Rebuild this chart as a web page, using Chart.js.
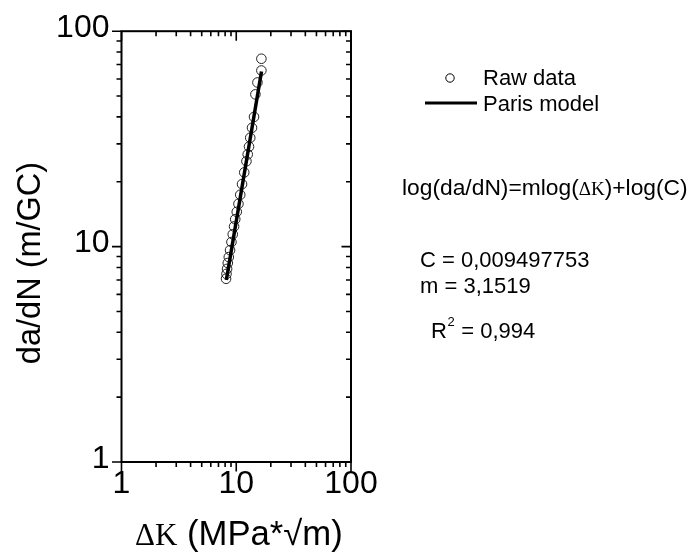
<!DOCTYPE html>
<html>
<head>
<meta charset="utf-8">
<script src="https://cdn.jsdelivr.net/npm/chart.js@4/dist/chart.umd.min.js"></script>
<style>
  html, body { margin: 0; padding: 0; background: #ffffff; }
  #wrap { width: 688px; height: 553px; position: relative; }
</style>
</head>
<body>
<div id="wrap"><canvas id="c"></canvas></div>
<script>
// ---- data ----
const deltaK = [16.56, 16.56, 15.3, 14.69, 14.28, 13.72, 13.24, 12.92, 12.59, 12.27, 11.74, 11.23, 10.83, 10.45, 10.1, 9.80, 9.57, 9.32, 9.08, 8.83, 8.61, 8.44, 8.32, 8.22, 8.15];
const growthRate = [74.5, 65.7, 57.8, 50.9, 40.0, 35.6, 32.0, 29.1, 26.8, 24.9, 22.1, 19.5, 17.4, 15.8, 14.5, 13.4, 12.4, 11.4, 10.5, 9.63, 8.94, 8.39, 7.88, 7.47, 7.09];
const fitK = [8.2, 16.6];
const fitRate = [7.0, 65.0];
const tickLabels = [1, 10, 100];
const legendLabels = ['Raw data', 'Paris model'];
const xTitleSymbol = 'ΔK';
const xTitleRest = ' (MPa*√m)';
const yTitle = 'da/dN (m/GC)';
const eqParts = ['log(da/dN)=mlog(', 'ΔK', ')+log(C)'];
const paramC = 'C = 0,009497753';
const paramM = 'm = 3,1519';
const paramR = ['R', '2', ' = 0,994'];

const SANS = '"Liberation Sans", Arial, sans-serif';
const SERIF = '"Liberation Serif", "Times New Roman", serif';

const minorValues = [];
for (let e = 0; e < 2; e++) for (let m = 1; m <= 9; m++) minorValues.push(m * Math.pow(10, e));
minorValues.push(100);

const decorPlugin = {
  id: 'decor',
  afterDraw(chart) {
    const ctx = chart.ctx;
    const a = chart.chartArea;
    const xs = chart.scales.x, ys = chart.scales.y;
    ctx.save();
    ctx.strokeStyle = '#000';
    ctx.fillStyle = '#000';
    // frame
    ctx.lineWidth = 2;
    ctx.strokeRect(a.left, a.top, a.right - a.left, a.bottom - a.top);
    // ticks
    ctx.lineWidth = 1.6;
    minorValues.forEach(v => {
      const major = tickLabels.includes(v);
      const len = major ? 9.5 : 5;
      const px = xs.getPixelForValue(v);
      ctx.beginPath();
      ctx.moveTo(px, a.bottom); ctx.lineTo(px, a.bottom + len);
      ctx.moveTo(px, a.top); ctx.lineTo(px, a.top + len);
      const py = ys.getPixelForValue(v);
      ctx.moveTo(a.left, py); ctx.lineTo(a.left - len, py);
      ctx.moveTo(a.right, py); ctx.lineTo(a.right - len, py);
      ctx.stroke();
    });
    // y title
    ctx.save();
    ctx.translate(40, 263);
    ctx.rotate(-Math.PI / 2);
    ctx.font = '32.5px ' + SANS;
    ctx.textAlign = 'center';
    ctx.textBaseline = 'alphabetic';
    ctx.fillText(yTitle, 0, 0);
    ctx.restore();
    // x title (mixed fonts)
    ctx.textBaseline = 'alphabetic';
    ctx.textAlign = 'left';
    let x0 = 135;
    ctx.font = '31px ' + SERIF;
    ctx.fillText(xTitleSymbol, x0, 545);
    x0 += ctx.measureText(xTitleSymbol).width;
    ctx.font = '34.7px ' + SANS;
    ctx.fillText(xTitleRest, x0, 545);
    // legend
    ctx.lineWidth = 1;
    ctx.beginPath();
    ctx.arc(450, 78, 4.2, 0, Math.PI * 2);
    ctx.stroke();
    ctx.lineWidth = 3;
    ctx.beginPath();
    ctx.moveTo(425, 103); ctx.lineTo(477, 103);
    ctx.stroke();
    ctx.font = '22px ' + SANS;
    ctx.fillText(legendLabels[0], 483, 85);
    ctx.fillText(legendLabels[1], 483, 111);
    // equation
    let ex = 402;
    ctx.font = '22.8px ' + SANS;
    ctx.fillText(eqParts[0], ex, 195);
    ex += ctx.measureText(eqParts[0]).width;
    ctx.font = '19px ' + SERIF;
    ctx.fillText(eqParts[1], ex, 195);
    ex += ctx.measureText(eqParts[1]).width;
    ctx.font = '22.8px ' + SANS;
    ctx.fillText(eqParts[2], ex, 195);
    // params
    ctx.font = '22px ' + SANS;
    ctx.fillText(paramC, 420, 267);
    ctx.fillText(paramM, 420, 293);
    let rx = 431;
    ctx.fillText(paramR[0], rx, 338);
    rx += ctx.measureText(paramR[0]).width;
    ctx.font = '13px ' + SANS;
    ctx.fillText(paramR[1], rx + 0.5, 326);
    rx += ctx.measureText(paramR[1]).width + 1;
    ctx.font = '22px ' + SANS;
    ctx.fillText(paramR[2], rx, 338);
    ctx.restore();
  }
};

const rawPoints = deltaK.map((k, i) => ({ x: k, y: growthRate[i] }));
const fitPoints = fitK.map((k, i) => ({ x: k, y: fitRate[i] }));

new Chart(document.getElementById('c'), {
  type: 'scatter',
  data: {
    datasets: [
      {
        label: legendLabels[0],
        data: rawPoints,
        pointStyle: 'circle',
        pointRadius: 4.8,
        pointBorderWidth: 1,
        pointBorderColor: '#222',
        pointBackgroundColor: 'rgba(0,0,0,0)',
        showLine: false,
        order: 2
      },
      {
        label: legendLabels[1],
        data: fitPoints,
        showLine: true,
        borderColor: '#000',
        borderWidth: 3.5,
        pointRadius: 0,
        order: 1
      }
    ]
  },
  options: {
    responsive: true,
    maintainAspectRatio: false,
    animation: false,
    devicePixelRatio: 1,
    layout: { padding: { left: 0, top: 25, right: 337, bottom: 0 } },
    plugins: { legend: { display: false }, tooltip: { enabled: false } },
    scales: {
      x: {
        type: 'logarithmic',
        min: 1, max: 100,
        afterBuildTicks: s => { s.ticks = tickLabels.map(v => ({ value: v })); },
        afterFit: s => { s.height = 91; },
        grid: { display: false, drawTicks: false },
        border: { display: false },
        ticks: {
          autoSkip: false, maxRotation: 0, padding: 3, color: '#000',
          font: { size: 32, family: SANS },
          callback: v => String(v)
        }
      },
      y: {
        type: 'logarithmic',
        min: 1, max: 100,
        afterBuildTicks: s => { s.ticks = tickLabels.map(v => ({ value: v })); },
        afterFit: s => { s.width = 121.5; },
        grid: { display: false, drawTicks: false },
        border: { display: false },
        ticks: {
          autoSkip: false, padding: 12, color: '#000', labelOffset: -3,
          font: { size: 32, family: SANS },
          callback: v => String(v)
        }
      }
    }
  },
  plugins: [decorPlugin]
});
</script>
</body>
</html>
